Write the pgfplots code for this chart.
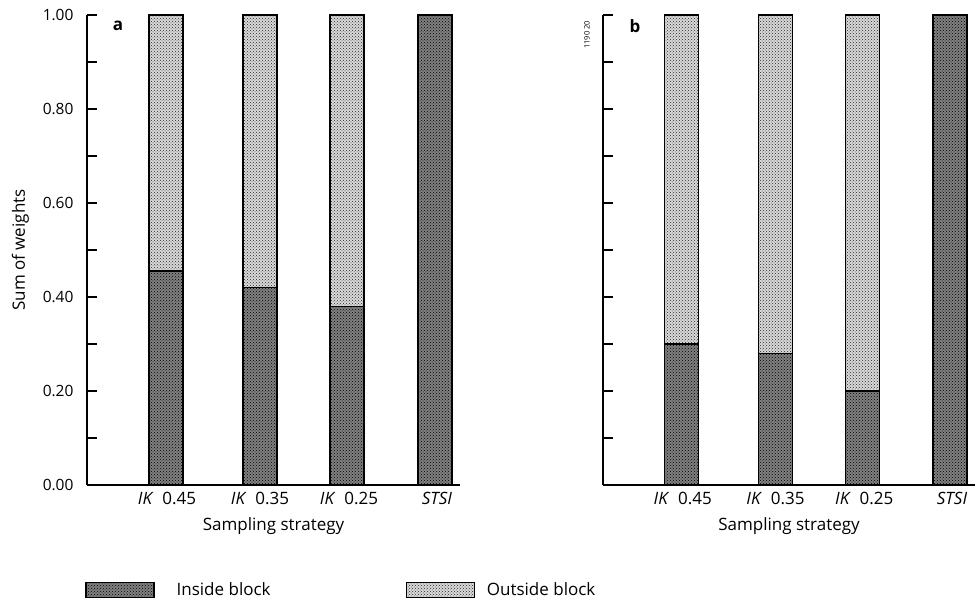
\documentclass[border=0pt]{standalone}
\usepackage{fontspec}
\setmainfont{Open Sans}
\usepackage{pgfplots}
\usepackage{pgfplotstable}
\pgfplotsset{compat=1.18}
\usetikzlibrary{patterns}

\pgfplotstableread{
x in out
79 0.455 0.545
173 0.42 0.58
260 0.38 0.62
348 1.00 0.00
}\dataA
\pgfplotstableread{
x in out
79 0.30 0.70
173 0.28 0.72
260 0.20 0.80
348 1.00 0.00
}\dataB

\begin{document}
\begin{tikzpicture}
\useasboundingbox (0pt,0pt) rectangle (978pt,608pt);
\pgfplotsset{
 inside/.style={draw=black, line width=1.3pt, fill=black!50, postaction={pattern=crosshatch dots, pattern color=black}},
 outside/.style={draw=black, line width=1.3pt, fill=black!15, postaction={pattern=crosshatch dots, pattern color=black!85}},
 panel/.style={
   at={(#1,123pt)}, anchor=south west, scale only axis, height=470pt,
   ybar stacked, bar width=34pt,
   ymin=0, ymax=1, xmin=0, xmax=373,
   axis x line*=bottom, axis y line*=left, axis line style={-, line width=1.3pt},
   ytick={0,0.2,0.4,0.6,0.8,1.0}, minor ytick={0.1,0.3,0.5,0.7,0.9},
   tick align=inside, major tick length=10pt, minor tick length=10pt,
   tick style={line width=1.3pt, black},
   xtick={80,173,262,350},
   xticklabels={\textit{IK}\ \ 0.45,\textit{IK}\ \ 0.35,\textit{IK}\ \ 0.25,\textit{STSI}},
   x tick style={draw=none},
   xlabel={Sampling strategy},
   font=\fontsize{17}{20}\selectfont,
   xticklabel style={font=\fontsize{17}{20}\selectfont, yshift=-4pt},
   yticklabel style={font=\fontsize{15.5}{18}\selectfont, xshift=-10pt},
   label style={font=\fontsize{17}{20}\selectfont},
   xlabel shift=6pt,
   ylabel shift=7pt,
   /pgf/number format/assume math mode=true,
   yticklabel style={/pgf/number format/.cd, fixed, fixed zerofill, precision=2},
 }
}
\begin{axis}[panel=87pt, width=373pt, ylabel={Sum of weights},
  legend columns=2,
  legend style={at={(-0.005,-0.223)}, anchor=west, draw=none, fill=none, inner sep=0pt,
    font=\fontsize{17}{20}\selectfont,
    nodes={inner sep=0pt},
    /tikz/column 1/.style={column sep=22pt},
    /tikz/column 2/.style={column sep=135pt},
    /tikz/column 3/.style={column sep=12pt}},
  legend cell align=left,
  legend image code/.code={\draw[#1] (0pt,-7.5pt) rectangle (68pt,7.5pt);},
]
\addplot[inside] table[x=x,y=in]{\dataA};
\addplot[outside] table[x=x,y=out]{\dataA};
\legend{Inside block, Outside block}
\node[anchor=center, font=\bfseries\fontsize{17}{20}\selectfont] at (rel axis cs:0.083,0.977) {a};
\end{axis}
\begin{axis}[panel=603pt, width=372pt, yticklabels={}]
\addplot[inside] table[x=x,y=in]{\dataB};
\addplot[outside] table[x=x,y=out]{\dataB};
\node[anchor=center, font=\bfseries\fontsize{17}{20}\selectfont] at (rel axis cs:0.086,0.977) {b};
\end{axis}
\node[rotate=90, font=\fontsize{7.5}{8}\selectfont] at (587pt,573pt) {1190 20};
\end{tikzpicture}
\end{document}
